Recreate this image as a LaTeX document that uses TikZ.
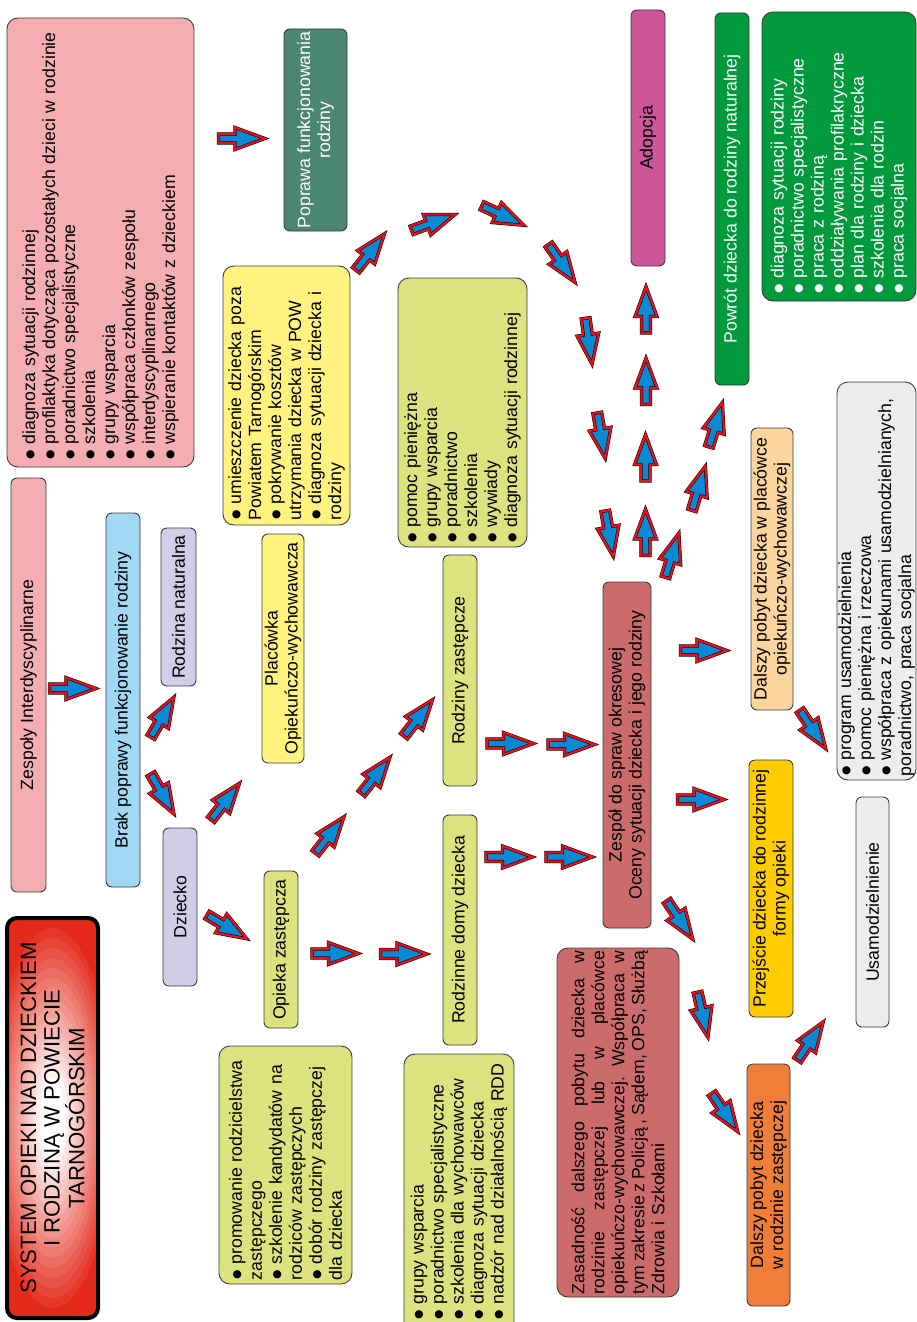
\documentclass[tikz,border=0pt]{standalone}
\usepackage{fontspec}
\setmainfont{Liberation Sans}
\definecolor{cBorder}{HTML}{3C3C3C}
\definecolor{cPink}{HTML}{F4ADB1}
\definecolor{cTeal}{HTML}{4B8574}
\definecolor{cYellow}{HTML}{FFF27F}
\definecolor{cLime}{HTML}{DCE27E}
\definecolor{cSky}{HTML}{A0D8F5}
\definecolor{cLav}{HTML}{D2CCE6}
\definecolor{cRose}{HTML}{CC6B6B}
\definecolor{cMag}{HTML}{CC5699}
\definecolor{cGreen}{HTML}{00993B}
\definecolor{cGray}{HTML}{EDEDEF}
\definecolor{cPeach}{HTML}{FBD49E}
\definecolor{cGold}{HTML}{FFCC00}
\definecolor{cOrange}{HTML}{F07D38}
\definecolor{cRed}{HTML}{E8101A}
\definecolor{cBlue}{HTML}{0A8AD2}
\definecolor{cTred}{HTML}{E42A1B}
\newcommand{\bl}{\makebox[15.5pt][l]{\raisebox{-0.9pt}{\fontsize{19}{0}\selectfont ●}}}
\newcommand{\li}[1]{\mbox{\bl#1}}
\newcommand{\lc}[1]{\mbox{#1}}
\newcommand{\gap}{\hspace{0pt plus 1fill}}
\newcommand{\lj}[1]{\mbox{\hbox to 343pt{#1}}}
\begin{document}
\begin{tikzpicture}[x=1pt,y=-1pt,
  box/.style={draw=cBorder, line width=0.9pt, rounded corners=6pt, rotate=90, inner sep=0pt, align=center, font=\fontsize{17.7}{20}\selectfont},
  lst/.style={box, align=left, rounded corners=11pt},
  arwline/.style={draw=black, line width=0.5pt, double=cRed, double distance=2.2pt, fill=cBlue, line join=miter},
  arw/.pic={\path[arwline] (-24.5,-4.5) -- (-8,-4.5) -- (-8,-11) -- (22,0) -- (-8,11) -- (-8,4.5) -- (-24.5,4.5) -- cycle;}
]
\useasboundingbox (0,0) rectangle (917,1322);
\fill[white] (0,0) rectangle (917,1322);

% ---------- title background (radial fade) ----------
\begin{scope}
  \clip[rounded corners=10pt] (7,918) rectangle (98,1318);
  \fill[cTred] (7,918) rectangle (98,1318);
  \foreach \i in {26,25,...,1} {
    \pgfmathsetmacro\t{\i/20}
    \pgfmathsetmacro\p{min(100,max(0,(\t-0.2)/0.8*100))}
    \pgfmathsetmacro\rx{64*\t}
    \pgfmathsetmacro\ry{200*\t}
    \fill[cTred!\p!white] (52.5,1118) ellipse [x radius=\rx pt, y radius=\ry pt];
  }
\end{scope}

% ---------- boxes ----------
\node[lst, fill=cPink, minimum width=449pt, minimum height=187pt, text width=435pt] (P1) at (100.5,242.5)
 {\li{diagnoza sytuacji rodzinnej}\\
  \li{profilaktyka dotycząca pozostałych dzieci w rodzinie}\\
  \li{poradnictwo specjalistyczne}\\
  \li{szkolenia}\\
  \li{grupy wsparcia}\\
  \li{współpraca członków zespołu}\\
  \li{interdyscyplinarnego}\\
  \li{wspieranie kontaktów z dzieckiem}};

\node[box, fill=cTeal, text=white, minimum width=202pt, minimum height=63pt] (T) at (315.5,130)
 {Poprawa funkcjonowania\\rodziny};

\node[lst, fill=cYellow, minimum width=259pt, minimum height=127pt, text width=249pt] (Y1) at (286.5,395.5)
 {\li{umieszczenie dziecka poza}\\
  \lc{Powiatem Tarnogórskim}\\
  \li{pokrywanie kosztów}\\
  \lc{utrzymania dziecka w POW}\\
  \li{diagnoza sytuacji dziecka i}\\
  \lc{rodziny}};

\node[lst, fill=cLime, minimum width=269pt, minimum height=129pt, text width=261pt] (G1) at (462.5,412.5)
 {\li{pomoc pieniężna}\\
  \li{grupy wsparcia}\\
  \li{poradnictwo}\\
  \li{szkolenia}\\
  \li{wywiady}\\
  \li{diagnoza sytuacji rodzinnej}};

\node[box, fill=cPink, minimum width=414pt, minimum height=35pt] (ZI) at (28.5,685) {Zespoły Interdyscyplinarne};
\node[box, fill=cSky, minimum width=374pt, minimum height=34pt] (B) at (123,700) {Brak poprawy funkcjonowanie rodziny};
\node[box, fill=cLav, minimum width=158pt, minimum height=35pt] (RN) at (178.5,607) {Rodzina naturalna};
\node[box, fill=cLav, minimum width=158pt, minimum height=34pt] (D) at (180,907) {Dziecko};
\node[box, fill=cYellow, minimum width=229pt, minimum height=42pt] (PL) at (283,648.5) {Placówka\\Opiekuńczo-wychowawcza};
\node[box, fill=cLime, minimum width=157pt, minimum height=34pt] (OZ) at (281,949.5) {Opieka zastępcza};
\node[box, fill=cLime, minimum width=231pt, minimum height=34pt] (RZ) at (460,670.5) {Rodziny zastępcze};
\node[box, fill=cLime, minimum width=230pt, minimum height=34pt] (RDD) at (460,930) {Rodzinne domy dziecka};
\node[box, fill=cRose, minimum width=346pt, minimum height=48pt] (ZS) at (627,755) {Zespół do spraw okresowej\\Oceny sytuacji dziecka i jego rodziny};

\node[lst, fill=cRose, minimum width=349pt, minimum height=122pt, text width=343pt] (ZA) at (618,1122.5)
 {\lj{Zasadność\gap dalszego\gap pobytu\gap dziecka\gap w}\\
  \lj{rodzinie\gap zastępczej\gap lub\gap w\gap placówce}\\
  \lj{opiekuńczo-wychowawczej.\gap Współpraca\gap w}\\
  \lj{tym\gap zakresie\gap z\gap Policją\gap ,\gap Sądem,\gap OPS,\gap Służbą}\\
  \lc{Zdrowia i Szkołami}};

\node[lst, fill=cLime, minimum width=238pt, minimum height=133pt, text width=230pt] (G2) at (285.5,1165)
 {\li{promowanie rodzicielstwa}\\
  \lc{zastępczego}\\
  \li{szkolenie kandydatów na}\\
  \lc{rodziców zastępczych}\\
  \li{dobór rodziny zastępczej}\\
  \lc{dla dziecka}};

\node[lst, fill=cLime, minimum width=280pt, minimum height=110pt, text width=252pt] (G3) at (459,1194)
 {\li{grupy wsparcia}\\
  \li{poradnictwo specjalistyczne}\\
  \li{szkolenia dla wychowawców}\\
  \li{diagnoza sytuacji dziecka}\\
  \li{nadzór nad działalnością RDD}};

\node[box, draw=black, line width=4pt, rounded corners=10pt, minimum width=400pt, minimum height=91pt,
      font=\fontsize{22.2}{23.5}\selectfont] (TT) at (52.5,1118)
 {SYSTEM OPIEKI NAD DZIECKIEM\\I RODZINĄ W POWIECIE\\TARNOGÓRSKIM};

\node[box, fill=cMag, minimum width=256pt, minimum height=34pt] (AD) at (648,138) {Adopcja};
\node[box, fill=cGreen, text=white, minimum width=372pt, minimum height=34pt] (PW) at (732,199) {Powrót dziecka do rodziny naturalnej};

\node[lst, fill=cGreen, text=white, minimum width=289pt, minimum height=154pt, text width=275pt] (G4) at (839,156.5)
 {\li{diagnoza sytuacji rodziny}\\
  \li{poradnictwo specjalistyczne}\\
  \li{praca z rodziną}\\
  \li{oddziaływania profilakryczne}\\
  \li{plan dla rodziny i dziecka}\\
  \li{szkolenia dla rodzin}\\
  \li{praca socjalna}};

\node[lst, fill=cGray, minimum width=398pt, minimum height=79pt, text width=390pt] (GR) at (876.5,581)
 {\li{program usamodzielnienia}\\
  \li{pomoc pieniężna i rzeczowa}\\
  \li{współpraca z opiekunami usamodzielnianych,}\\
  \lc{poradnictwo, praca socjalna}};

\node[box, fill=cPeach, minimum width=282pt, minimum height=42pt] (DP) at (772,569) {Dalszy pobyt dziecka w placówce\\opiekuńczo-wychowawczej};
\node[box, fill=cGold, minimum width=257pt, minimum height=44pt] (PR) at (771,888.5) {Przejście dziecka do rodzinnej\\formy opieki};
\node[box, fill=cGray, minimum width=230pt, minimum height=33pt] (US) at (872.5,912) {Usamodzielnienie};
\node[box, fill=cOrange, minimum width=242pt, minimum height=43pt] (DR) at (768.5,1185) {Dalszy pobyt dziecka\\w rodzinie zastępczej};

% ---------- block arrows ----------
\pic[rotate=0]   at (243,138.5) {arw};
\pic[rotate=0]   at (74,688.5)  {arw};
\pic[rotate=60]  at (163,716)   {arw};
\pic[rotate=-60] at (163,795)   {arw};
\pic[rotate=52]  at (226,800.5) {arw};
\pic[rotate=-31] at (228,927.5) {arw};
\pic[rotate=0]   at (336.5,953.5) {arw};
\pic[rotate=0]   at (405,954)   {arw};
\pic[rotate=52]  at (330.5,834) {arw};
\pic[rotate=52]  at (376.5,774.5) {arw};
\pic[rotate=52]  at (419,717)   {arw};
\pic[rotate=0]   at (511.5,743.5) {arw};
\pic[rotate=0]   at (572.5,744.5) {arw};
\pic[rotate=0]   at (510.5,857) {arw};
\pic[rotate=0]   at (570.5,857) {arw};
\pic[rotate=52]  at (371,251)   {arw};
\pic[rotate=20]  at (434.5,222) {arw};
\pic[rotate=-25] at (504,216)   {arw};
\pic[rotate=-55] at (562.5,264.5) {arw};
\pic[rotate=-82] at (589,342.5) {arw};
\pic[rotate=-80] at (601.5,437) {arw};
\pic[rotate=-80] at (609.5,535) {arw};
\pic[rotate=90]  at (646,308.5) {arw};
\pic[rotate=90]  at (646,380)   {arw};
\pic[rotate=90]  at (645.5,456.5) {arw};
\pic[rotate=90]  at (645.5,531) {arw};
\pic[rotate=73]  at (716,423.5) {arw};
\pic[rotate=73]  at (699,487)   {arw};
\pic[rotate=73]  at (672.5,554) {arw};
\pic[rotate=0]   at (705,650.5) {arw};
\pic[rotate=0]   at (702,799.5) {arw};
\pic[rotate=-56] at (680.5,921) {arw};
\pic[rotate=-77] at (703,1016)  {arw};
\pic[rotate=-56] at (725.5,1113.5) {arw};
\pic[rotate=56]  at (811,1040)  {arw};
\pic[rotate=-56] at (813.5,730.5) {arw};
\end{tikzpicture}
\end{document}
